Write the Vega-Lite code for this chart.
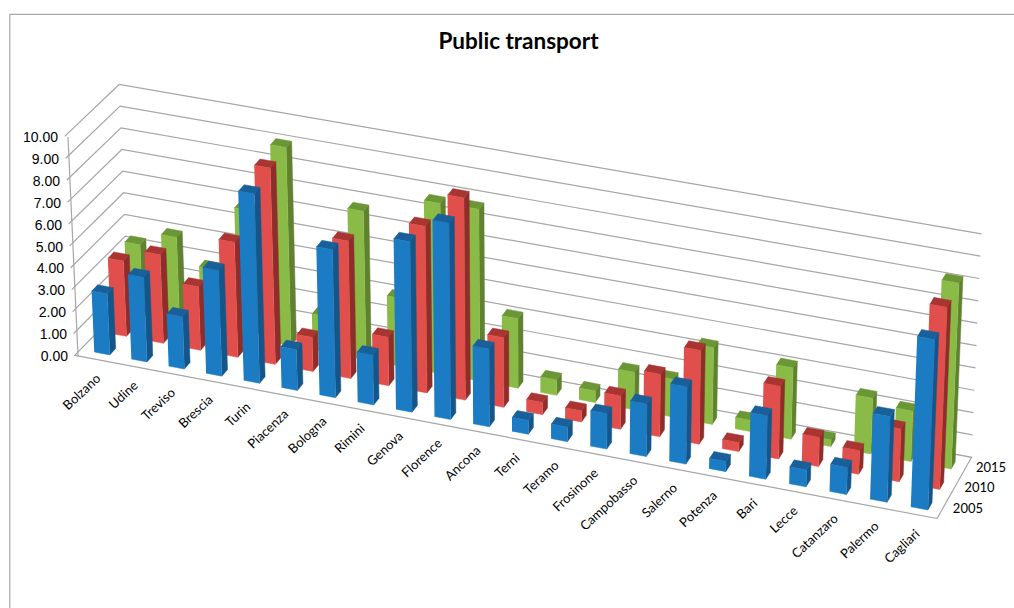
{
  "$schema": "https://vega.github.io/schema/vega-lite/v6.json",
  "description": "Three-dimensional column chart of public transport by city and year, projected onto the page with a perspective floor and vertical value lift.",
  "width": 1006,
  "height": 595,
  "autosize": {"type": "none"},
  "padding": {"left": 9.5, "top": 14, "right": 0, "bottom": 0},
  "background": "white",
  "view": {"stroke": "#a9a9a9", "strokeWidth": 1.2, "fill": "white"},
  "title": {"text": "Public transport", "font": "Lato", "fontSize": 22.5, "fontWeight": "bold", "color": "black", "anchor": "middle", "dx": 6, "dy": 39, "offset": 0},
  "datasets": {
    "bars": [
      {"city":"Bolzano","year":2015,"value":3.37},{"city":"Udine","year":2015,"value":4.02},{"city":"Treviso","year":2015,"value":2.87},{"city":"Brescia","year":2015,"value":5.87},{"city":"Turin","year":2015,"value":9.07},{"city":"Piacenza","year":2015,"value":1.65},{"city":"Bologna","year":2015,"value":6.77},{"city":"Rimini","year":2015,"value":3.1},{"city":"Genova","year":2015,"value":7.75},{"city":"Florence","year":2015,"value":7.8},{"city":"Ancona","year":2015,"value":3.15},{"city":"Terni","year":2015,"value":0.7},{"city":"Teramo","year":2015,"value":0.52},{"city":"Frosinone","year":2015,"value":1.7},{"city":"Campobasso","year":2015,"value":1.7},{"city":"Salerno","year":2015,"value":3.45},{"city":"Potenza","year":2015,"value":0.5},{"city":"Bari","year":2015,"value":3.2},{"city":"Lecce","year":2015,"value":0.3},{"city":"Catanzaro","year":2015,"value":2.5},{"city":"Palermo","year":2015,"value":2.25},{"city":"Cagliari","year":2015,"value":8.3},
      {"city":"Bolzano","year":2010,"value":3.45},{"city":"Udine","year":2010,"value":4.05},{"city":"Treviso","year":2010,"value":2.9},{"city":"Brescia","year":2010,"value":5.25},{"city":"Turin","year":2010,"value":8.95},{"city":"Piacenza","year":2010,"value":1.55},{"city":"Bologna","year":2010,"value":6.25},{"city":"Rimini","year":2010,"value":2.2},{"city":"Genova","year":2010,"value":7.55},{"city":"Florence","year":2010,"value":9.15},{"city":"Ancona","year":2010,"value":3.15},{"city":"Terni","year":2010,"value":0.55},{"city":"Teramo","year":2010,"value":0.5},{"city":"Frosinone","year":2010,"value":1.5},{"city":"Campobasso","year":2010,"value":2.8},{"city":"Salerno","year":2010,"value":4.2},{"city":"Potenza","year":2010,"value":0.4},{"city":"Bari","year":2010,"value":3.25},{"city":"Lecce","year":2010,"value":1.3},{"city":"Catanzaro","year":2010,"value":1.05},{"city":"Palermo","year":2010,"value":2.35},{"city":"Cagliari","year":2010,"value":8.1},
      {"city":"Bolzano","year":2005,"value":2.78},{"city":"Udine","year":2005,"value":3.85},{"city":"Treviso","year":2005,"value":2.38},{"city":"Brescia","year":2005,"value":4.8},{"city":"Turin","year":2005,"value":8.6},{"city":"Piacenza","year":2005,"value":1.85},{"city":"Bologna","year":2005,"value":6.7},{"city":"Rimini","year":2005,"value":2.25},{"city":"Genova","year":2005,"value":7.7},{"city":"Florence","year":2005,"value":8.85},{"city":"Ancona","year":2005,"value":3.5},{"city":"Terni","year":2005,"value":0.62},{"city":"Teramo","year":2005,"value":0.65},{"city":"Frosinone","year":2005,"value":1.58},{"city":"Campobasso","year":2005,"value":2.35},{"city":"Salerno","year":2005,"value":3.45},{"city":"Potenza","year":2005,"value":0.45},{"city":"Bari","year":2005,"value":2.83},{"city":"Lecce","year":2005,"value":0.75},{"city":"Catanzaro","year":2005,"value":1.2},{"city":"Palermo","year":2005,"value":3.8},{"city":"Cagliari","year":2005,"value":7.55}
    ],
    "ticks": [
      {"value":0},{"value":1},{"value":2},{"value":3},{"value":4},{"value":5},{"value":6},{"value":7},{"value":8},{"value":9},{"value":10}
    ]
  },
  "encoding": {
    "x": {"field": "X", "type": "quantitative", "axis": null, "scale": {"domain": [9.5, 1015.5], "nice": false, "zero": false}},
    "y": {"field": "Y", "type": "quantitative", "axis": null, "scale": {"domain": [609, 14], "nice": false, "zero": false}}
  },
  "layer": [
    {
      "data": {"name": "ticks"},
      "transform": [
        {"calculate": "[0,1,2,3,4]", "as": "corner"},
        {"flatten": ["corner"]},
        {"filter": "datum.value == 0 || (datum.corner >= 1 && datum.corner <= 3)"},
        {"calculate": "datum.corner == 0 || datum.corner >= 3 ? 1 : (datum.corner == 1 ? -0.004 : 0)", "as": "pu"},
        {"calculate": "datum.corner == 2 || datum.corner == 3 ? 1 : 0", "as": "pv"},
        {"calculate": "datum.value", "as": "t"},
        {"calculate": "1 - 0.05*datum.pu + 0.0204*datum.pv", "as": "w"},
        {"calculate": "(812.2*datum.pu + 52.61*datum.pv + 78)/datum.w", "as": "fx"},
        {"calculate": "(136.6*datum.pu - 48.85*datum.pv + 356)/datum.w", "as": "fy"},
        {"calculate": "21.9 + 0.7*datum.pu - 0.25*datum.pv", "as": "S"},
        {"calculate": "datum.fx + (datum.fx - 535)*0.0001*datum.S*datum.t", "as": "X"},
        {"calculate": "datum.fy - datum.S*datum.t", "as": "Y"}
      ],
      "mark": {"type": "line", "stroke": "#a6a6a6", "strokeWidth": 1.2},
      "encoding": {"detail": {"field": "value"}, "order": {"field": "corner"}}
    },
    {
      "data": {"name": "ticks"},
      "transform": [
        {"calculate": "datum.value", "as": "t"},
        {"calculate": "78 + (78 - 535)*0.0001*21.9*datum.t", "as": "X"},
        {"calculate": "356 - 21.9*datum.t", "as": "Y"}
      ],
      "layer": [
        {"mark": {"type": "line", "stroke": "#a6a6a6", "strokeWidth": 1.2}, "encoding": {"order": {"field": "value"}}},
        {"mark": {"type": "text", "align": "right", "baseline": "middle", "dx": -10, "dy": 1, "font": "Liberation Sans", "fontSize": 14, "color": "black"},
         "encoding": {"text": {"field": "value", "type": "quantitative", "format": ".2f"}}}
      ]
    },
    {
      "data": {"name": "bars"},
      "transform": [
        {"calculate": "indexof(['Bolzano','Udine','Treviso','Brescia','Turin','Piacenza','Bologna','Rimini','Genova','Florence','Ancona','Terni','Teramo','Frosinone','Campobasso','Salerno','Potenza','Bari','Lecce','Catanzaro','Palermo','Cagliari'], datum.city)", "as": "i"},
        {"calculate": "(datum.year - 2005)/5", "as": "d"},
        {"calculate": "['side','top','front']", "as": "face"},
        {"flatten": ["face"]},
        {"calculate": "[0,1,2,3]", "as": "corner"},
        {"flatten": ["corner"]},
        {"calculate": "datum.city + ' ' + datum.year + ' ' + datum.face", "as": "polygon"},
        {"calculate": "datum.year + ' ' + datum.face", "as": "paint"},
        {"calculate": "datum.face == 'side' || datum.corner == 1 || datum.corner == 2", "as": "far_u"},
        {"calculate": "datum.face == 'front' ? false : (datum.face == 'side' ? (datum.corner == 1 || datum.corner == 2) : datum.corner >= 2)", "as": "far_v"},
        {"calculate": "(datum.i + (datum.far_u ? 0.71 : 0.29))/22", "as": "pu"},
        {"calculate": "(datum.d + 0.5)/3 + (datum.far_v ? 0.058 : -0.058)", "as": "pv"},
        {"calculate": "datum.face == 'top' || datum.corner >= 2 ? datum.value : 0", "as": "t"},
        {"calculate": "1 - 0.05*datum.pu + 0.0204*datum.pv", "as": "w"},
        {"calculate": "(811.2*datum.pu + 52.61*datum.pv + 78)/datum.w", "as": "fx"},
        {"calculate": "(137.05*datum.pu - 48.85*datum.pv + 356)/datum.w", "as": "fy"},
        {"calculate": "21.9 + 0.7*datum.pu - 0.25*datum.pv", "as": "S"},
        {"calculate": "datum.fx + (datum.fx - 535)*0.0001*datum.S*datum.t", "as": "X"},
        {"calculate": "datum.fy - datum.S*datum.t", "as": "Y"}
      ],
      "mark": {"type": "line", "strokeWidth": 0.5},
      "encoding": {
        "detail": {"field": "polygon"},
        "order": {"field": "corner"},
        "fill": {"field": "paint", "type": "nominal", "legend": null, "scale": {
          "domain": ["2005 front","2005 side","2005 top","2010 front","2010 side","2010 top","2015 front","2015 side","2015 top"],
          "range": ["#1b7bc3","#14568a","#195f99","#e04f4b","#8f2d2a","#a83532","#8bbb47","#5f8130","#6b9636"]}},
        "stroke": {"field": "paint", "type": "nominal", "legend": null, "scale": {
          "domain": ["2005 front","2005 side","2005 top","2010 front","2010 side","2010 top","2015 front","2015 side","2015 top"],
          "range": ["#1b7bc3","#14568a","#195f99","#e04f4b","#8f2d2a","#a83532","#8bbb47","#5f8130","#6b9636"]}}
      }
    },
    {
      "data": {"name": "bars"},
      "transform": [
        {"filter": "datum.year == 2005"},
        {"calculate": "indexof(['Bolzano','Udine','Treviso','Brescia','Turin','Piacenza','Bologna','Rimini','Genova','Florence','Ancona','Terni','Teramo','Frosinone','Campobasso','Salerno','Potenza','Bari','Lecce','Catanzaro','Palermo','Cagliari'], datum.city)", "as": "i"},
        {"calculate": "(datum.i + 0.5)/22", "as": "pu"},
        {"calculate": "1 - 0.05*datum.pu", "as": "w"},
        {"calculate": "(811.2*datum.pu + 78)/datum.w", "as": "X"},
        {"calculate": "(137.05*datum.pu + 356)/datum.w", "as": "Y"}
      ],
      "mark": {"type": "text", "align": "right", "baseline": "middle", "angle": 317, "dx": -10, "dy": 14, "font": "Lato", "fontSize": 13, "color": "black"},
      "encoding": {"text": {"field": "city"}}
    },
    {
      "data": {"name": "bars"},
      "transform": [
        {"filter": "datum.city == 'Cagliari'"},
        {"calculate": "((datum.year - 2005)/5 + 0.5)/3", "as": "pv"},
        {"calculate": "1 - 0.05 + 0.0204*datum.pv", "as": "w"},
        {"calculate": "(811.2 + 52.61*datum.pv + 78)/datum.w", "as": "X"},
        {"calculate": "(137.05 - 48.85*datum.pv + 356)/datum.w", "as": "Y"}
      ],
      "mark": {"type": "text", "align": "left", "baseline": "middle", "dx": 11, "font": "Lato", "fontSize": 13, "color": "black"},
      "encoding": {"text": {"field": "year", "type": "nominal"}}
    }
  ]
}
